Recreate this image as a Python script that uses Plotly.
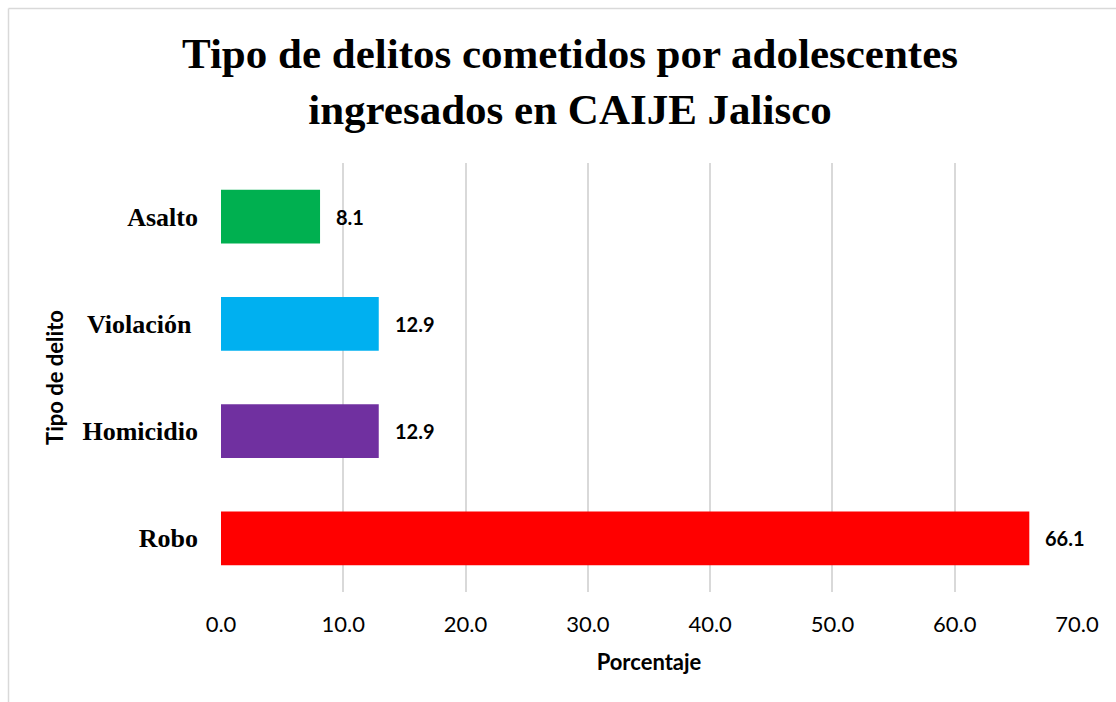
import plotly.graph_objects as go

categories = ["Robo", "Homicidio", "Violación ", "Asalto"]
values = [66.1, 12.9, 12.9, 8.1]
colors = ["#FF0000", "#7030A0", "#00B0F0", "#00B050"]
tick_vals = [0, 10, 20, 30, 40, 50, 60, 70]
tick_text = ["0.0", "10.0", "20.0", "30.0", "40.0", "50.0", "60.0", "70.0"]

W, H = 1116, 702
L, R, T, B = 221, 39, 163, 110
pw, ph = W - L - R, H - T - B

fig = go.Figure()
fig.add_trace(go.Bar(
    y=categories, x=values, orientation="h",
    marker=dict(color=colors, line=dict(width=0)),
    width=0.5, hoverinfo="skip",
))

for c, v in zip(categories, values):
    fig.add_annotation(x=v, y=c, text=f"<b>{v:.1f}</b>", showarrow=False,
                       xanchor="left", xshift=14,
                       font=dict(family="Lato", size=20, color="#000000"))

# light border around chart area
def px_x(p):
    return (p - L) / pw

def px_y(p):
    return (H - B - p) / ph

fig.add_shape(type="line", xref="paper", yref="paper",
              x0=px_x(8.5), x1=px_x(1125), y0=px_y(8.5), y1=px_y(8.5),
              line=dict(color="#D9D9D9", width=1.5))
fig.add_shape(type="line", xref="paper", yref="paper",
              x0=px_x(8.5), x1=px_x(8.5), y0=px_y(8.5), y1=px_y(720),
              line=dict(color="#D9D9D9", width=1.5))

fig.update_layout(
    width=W, height=H,
    margin=dict(l=L, r=R, t=T, b=B),
    paper_bgcolor="white", plot_bgcolor="white",
    showlegend=False,
    title=dict(
        text="<b>Tipo de delitos cometidos por adolescentes<br>ingresados en CAIJE Jalisco</b>",
        x=570 / W, xanchor="center", xref="container",
        y=1 - 68 / H, yanchor="top", yref="container",
        font=dict(family="Liberation Serif", size=43, color="#000000"),
    ),
    xaxis=dict(
        range=[0, 70], tickvals=tick_vals, ticktext=tick_text,
        showgrid=True, gridcolor="#D9D9D9", gridwidth=1.5,
        zeroline=False, showline=False, ticks="",
        ticklabelstandoff=17,
        tickfont=dict(family="Lato", size=22, color="#000000"),
        title=dict(text="<b>Porcentaje</b>", standoff=18,
                   font=dict(family="Lato", size=22, color="#000000")),
        fixedrange=True,
    ),
    yaxis=dict(
        categoryorder="array", categoryarray=categories,
        showgrid=False, zeroline=False, showline=False, ticks="",
        ticklabelstandoff=22,
        tickfont=dict(family="Liberation Serif", size=26, color="#000000"),
        tickprefix="<b>", ticksuffix="</b>",
        title=dict(text="<b>Tipo de delito</b>", standoff=12,
                   font=dict(family="Lato", size=22, color="#000000")),
        fixedrange=True,
    ),
    bargap=0.5,
)

fig.write_html("out.html")
